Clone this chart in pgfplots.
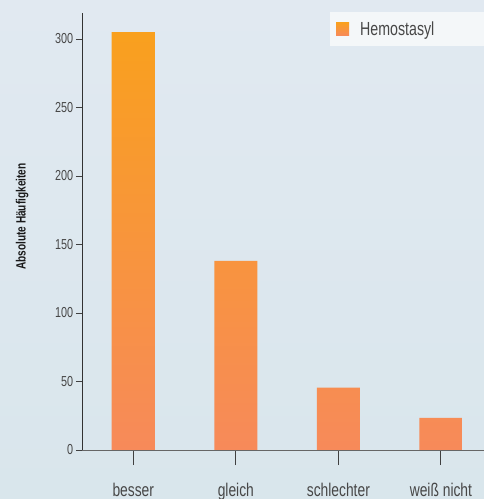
\documentclass[border=0pt]{standalone}
\usepackage{fontspec}
\setmainfont{Liberation Sans}[FakeStretch=0.75]
\usepackage{pgfplots}
\pgfplotsset{compat=1.18}
\definecolor{bgtop}{HTML}{E1E9F1}
\definecolor{bgbot}{HTML}{D9E6EC}
\definecolor{bartop}{HTML}{F9A01E}
\definecolor{barbot}{HTML}{F78A5A}
\definecolor{legfill}{HTML}{F4F7F9}
\definecolor{legsq}{HTML}{F98A55}
\definecolor{txt}{HTML}{474747}
\begin{document}
\begin{tikzpicture}
\shade[top color=bgtop, bottom color=bgbot] (0,0) rectangle (484bp,499bp);
\begin{axis}[
  at={(82bp,49bp)}, anchor=south west,
  scale only axis, width=402bp, height=437bp,
  xmin=-0.5, xmax=3.42, ymin=0, ymax=319,
  axis lines*=left,
  axis line style={line width=1pt},
  x axis line style={color=black!60},
  y axis line style={color=black!80},
  xtick=data,
  xticklabels={besser, gleich, schlechter, weiß nicht},
  ytick={0,50,100,150,200,250,300},
  tick align=outside,
  xtick style={/pgfplots/major tick length=15bp, line width=1pt, color=black!75},
  ytick style={/pgfplots/major tick length=6bp, line width=0.8pt, color=black!75},
  /pgf/number format/assume math mode=true,
  yticklabel style={font=\fontsize{14.5}{16}\selectfont, color=txt, xshift=-1bp},
  xticklabel style={font=\fontsize{18.5}{20}\selectfont, color=txt, yshift=-25bp},
  ylabel={Absolute Häufigkeiten},
  every axis y label/.style={at={(axis description cs:-0.149,0.534)}, rotate=90, anchor=center, font=\bfseries\fontsize{13.5}{15}\selectfont, color=black!90},
  legend style={at={(axis description cs:0.617,1.002)}, anchor=north west, fill=legfill, draw=none, font=\fontsize{19}{21}\selectfont, text=txt, inner xsep=6bp, inner ysep=7bp},
  ybar, bar width=0.42,
]
\addplot[draw=none, top color=bartop, bottom color=barbot,
  legend image code/.code={\fill[legsq] (0bp,-6.5bp) rectangle (13bp,6.5bp);}]
  coordinates {(0,305) (1,138) (2,45.5) (3,23.5)};
\addlegendentry{\hspace*{9bp}Hemostasyl\rule{60bp}{0pt}}
\end{axis}
\pgfresetboundingbox
\path[use as bounding box] (0,0) rectangle (484bp,499bp);
\end{tikzpicture}
\end{document}
